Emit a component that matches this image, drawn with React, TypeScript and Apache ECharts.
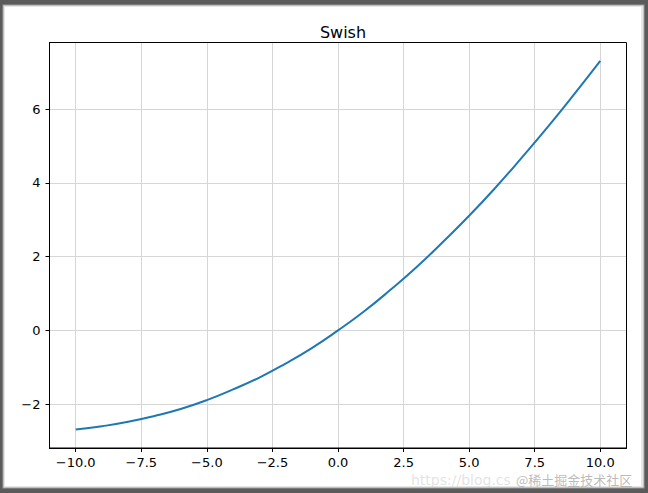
import React, { useEffect, useRef } from "react";
import * as echarts from "echarts";

const xValues = [-10, -9, -8, -7, -6, -5, -4, -3, -2, -1, 0, 1, 2, 3, 4, 5, 6, 7, 8, 9, 10];
const yValues = [-2.69, -2.6, -2.48, -2.32, -2.13, -1.89, -1.6, -1.28, -0.9, -0.48, 0, 0.52, 1.1, 1.72, 2.4, 3.11, 3.87, 4.68, 5.52, 6.4, 7.31];
const xTicks = [-10, -7.5, -5, -2.5, 0, 2.5, 5, 7.5, 10];
const yTicks = [-2, 0, 2, 4, 6];
const title = "Swish";

const minus = (s: string) => s.replace("-", "\u2212");

export default function App() {
  const ref = useRef<HTMLDivElement>(null);
  useEffect(() => {
    document.body.style.margin = "0";
    const chart = echarts.init(ref.current!, null, { renderer: "svg" });
    const font = "DejaVu Sans";
    chart.setOption({
      animation: false,
      backgroundColor: "#ffffff",
      textStyle: { fontFamily: font },
      graphic: [
        { type: "rect", z: -10, silent: true, shape: { x: 0, y: 0, width: 648, height: 493 }, style: { fill: "#5b5b5b" } },
        { type: "rect", z: -9, silent: true, shape: { x: 2.5, y: 4.5, width: 642, height: 484 }, style: { fill: "#9a9a9a" } },
        { type: "rect", z: -8, silent: true, shape: { x: 3.5, y: 5.5, width: 640, height: 482 }, style: { fill: "#e6e6e6" } },
        { type: "rect", z: -7, silent: true, shape: { x: 5, y: 7, width: 636, height: 479 }, style: { fill: "#ffffff" } },
        { type: "text", z: 10, silent: true, left: 411, top: 473, style: { text: "https://blog.cs", fill: "rgba(200,200,200,0.5)", font: "14px 'DejaVu Sans'" } },
        { type: "text", z: 11, silent: true, left: 516, top: 473, style: { text: "@稀土掘金技术社区", fill: "rgba(175,175,175,0.85)", font: "13px 'Noto Sans CJK SC'" } },
      ],
      title: {
        text: title,
        left: 338,
        textAlign: "center",
        top: 19,
        textStyle: { fontFamily: font, fontSize: 16, fontWeight: "normal", color: "#000" },
      },
      grid: {
        left: 49.5,
        right: 21.5,
        top: 42.5,
        bottom: 45,
        containLabel: false,
        show: true,
        backgroundColor: "transparent",
        borderColor: "#000",
        borderWidth: 1,
        z: 3,
      },
      xAxis: {
        type: "value",
        min: -11,
        max: 11,
        axisLine: { show: true, onZero: false, lineStyle: { color: "#000", width: 1 } },
        axisTick: { show: true, customValues: xTicks, length: 4, lineStyle: { color: "#000", width: 1 } },
        axisLabel: {
          customValues: xTicks,
          formatter: (v: number) => minus(v.toFixed(1)),
          color: "#000",
          fontFamily: font,
          fontSize: 13,
          margin: 8,
        },
        splitLine: { show: true, lineStyle: { color: "#d6d6d6", width: 1 } },
      },
      yAxis: {
        type: "value",
        min: -3.19,
        max: 7.81,
        axisLine: { show: true, onZero: false, lineStyle: { color: "#000", width: 1 } },
        axisTick: { show: true, customValues: yTicks, length: 4, lineStyle: { color: "#000", width: 1 } },
        axisLabel: {
          customValues: yTicks,
          formatter: (v: number) => minus(String(v)),
          color: "#000",
          fontFamily: font,
          fontSize: 13,
          margin: 9,
        },
        splitLine: { show: true, lineStyle: { color: "#d6d6d6", width: 1 } },
      },
      series: [
        {
          type: "line",
          data: xValues.map((x, i) => [x, yValues[i]]),
          smooth: true,
          showSymbol: false,
          lineStyle: { color: "#1f77b4", width: 2 },
          z: 5,
        },
      ],
    });
    return () => chart.dispose();
  }, []);
  return <div ref={ref} style={{ position: "absolute", left: 0, top: 0, width: 648, height: 493 }} />;
}
